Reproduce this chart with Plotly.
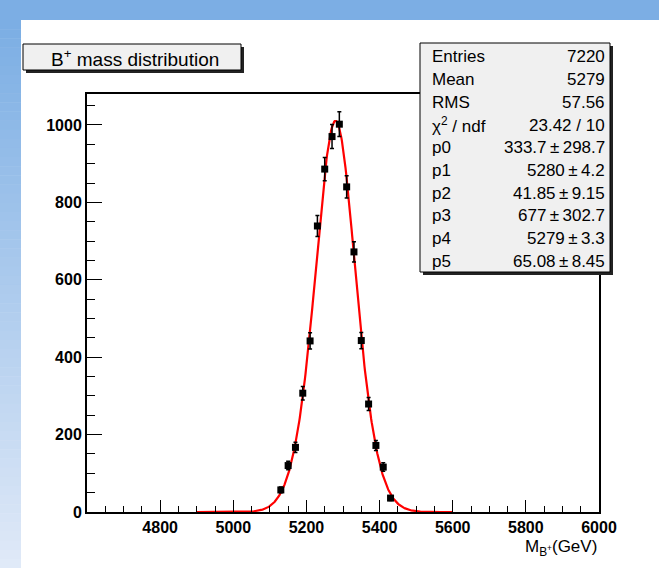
import numpy as np
import plotly.graph_objects as go

# ---- data ----
bin_centers = [5130, 5150, 5170, 5190, 5210, 5230, 5250, 5270, 5290, 5310,
               5330, 5350, 5370, 5390, 5410, 5430]
counts = [57, 120, 167, 307, 442, 739, 886, 970, 1002, 840,
          672, 443, 279, 172, 116, 36]
errors = [7.5, 11, 13, 17.5, 21, 27, 30, 31, 32, 29,
          26, 21, 17, 13, 11, 6]

fit_params = [333.7, 5280, 41.85, 677, 5279, 65.08]   # p0..p5
fit_range = [4900, 5600]

stats_labels = ["Entries", "Mean", "RMS", "χ<sup>2</sup> / ndf", "p0", "p1", "p2", "p3", "p4", "p5"]
stats_values = ["7220", "5279", "57.56", "23.42 / 10", "333.7\u2009±\u2009298.7", "5280\u2009±\u20094.2",
                "41.85\u2009±\u20099.15", "677\u2009±\u2009302.7", "5279\u2009±\u20093.3", "65.08\u2009±\u20098.45"]

x_ticks = [4800, 5000, 5200, 5400, 5600, 5800, 6000]
y_ticks = [0, 200, 400, 600, 800, 1000]

# ---- fit curve from displayed parameters ----
p0, p1, p2, p3, p4, p5 = fit_params
xf = np.linspace(fit_range[0], fit_range[1], 500)
yf = p0 * np.exp(-0.5 * ((xf - p1) / p2) ** 2) + p3 * np.exp(-0.5 * ((xf - p4) / p5) ** 2)

W, H = 659, 568
L, R, T, B = 87, 60, 94, 56
PW, PH = W - L - R, H - T - B

def px(x):
    return (x - L) / PW

def py(y):
    return (H - B - y) / PH

SANS = "Liberation Sans, Arial, sans-serif"

fig = go.Figure()
fig.add_trace(go.Scatter(x=xf, y=yf, mode="lines",
                         line=dict(color="#ff0000", width=2.2), hoverinfo="skip"))
fig.add_trace(go.Scatter(x=bin_centers, y=counts, mode="markers",
                         marker=dict(symbol="square", size=7, color="black"),
                         error_y=dict(type="data", array=errors, color="black",
                                      thickness=1.5, width=2)))

shapes = []
# blue slide background: top band and left gradient band
shapes.append(dict(type="rect", xref="paper", yref="paper", x0=px(0), x1=px(W), y0=py(20), y1=py(0),
                   fillcolor="rgb(124,174,228)", line_width=0, layer="below"))
n = 60
c0 = np.array([124, 174, 228]); c1 = np.array([224, 234, 248])
for i in range(n):
    f = i / (n - 1)
    c = c0 + (c1 - c0) * f
    y0p = 20 + (H - 20) * i / n
    y1p = 20 + (H - 20) * (i + 1) / n
    shapes.append(dict(type="rect", xref="paper", yref="paper", x0=px(0), x1=px(21),
                       y0=py(y1p + 0.5), y1=py(y0p),
                       fillcolor="rgb(%d,%d,%d)" % tuple(c.astype(int)), line_width=0, layer="below"))

def box(x0, y0, x1, y1):
    # shadow then box
    shapes.append(dict(type="rect", xref="paper", yref="paper", x0=px(x0 + 3), x1=px(x1 + 3),
                       y0=py(y1 + 3), y1=py(y0 + 3), fillcolor="#222222", line_width=0, layer="above"))
    shapes.append(dict(type="rect", xref="paper", yref="paper", x0=px(x0), x1=px(x1),
                       y0=py(y1), y1=py(y0), fillcolor="#f0f0f0",
                       line=dict(color="black", width=1), layer="above"))

box(23, 44, 241, 70)
box(420, 43, 610, 272)

annotations = []
annotations.append(dict(xref="paper", yref="paper", x=px(135), y=py(58), text="B<sup>+</sup> mass distribution",
                        showarrow=False, xanchor="center", yanchor="middle",
                        font=dict(family=SANS, size=19, color="black")))
row0, dy = 57, 22.7
for i, (lab, val) in enumerate(zip(stats_labels, stats_values)):
    yy = row0 + i * dy
    annotations.append(dict(xref="paper", yref="paper", x=px(430), y=py(yy), text=lab, showarrow=False,
                            xanchor="left", yanchor="middle",
                            font=dict(family=SANS, size=17, color="black")))
    annotations.append(dict(xref="paper", yref="paper", x=px(607), y=py(yy), text=val, showarrow=False,
                            xanchor="right", yanchor="middle",
                            font=dict(family=SANS, size=17, color="black")))
annotations.append(dict(xref="paper", yref="paper", x=px(599), y=py(548), text="M<sub>B<sup>+</sup></sub>(GeV)",
                        showarrow=False, xanchor="right", yanchor="middle",
                        font=dict(family=SANS, size=17, color="black")))

fig.update_layout(
    width=W, height=H, margin=dict(l=L, r=R, t=T, b=B),
    paper_bgcolor="white", plot_bgcolor="white",
    showlegend=False, shapes=shapes, annotations=annotations,
    font=dict(family=SANS, color="black"),
)
fig.update_xaxes(range=[4600, 6000], tickvals=x_ticks, ticktext=[str(v) for v in x_ticks],
                 ticks="inside", ticklen=12, tickwidth=1, tickcolor="black",
                 minor=dict(dtick=50, ticks="inside", ticklen=6, tickwidth=1, tickcolor="black"),
                 showline=True, linecolor="black", linewidth=2, mirror=True,
                 showgrid=False, zeroline=False,
                 tickfont=dict(family=SANS, size=16, color="black", weight="bold"))
fig.update_yaxes(range=[0, 1080], tickvals=y_ticks, ticktext=[str(v) for v in y_ticks],
                 ticks="inside", ticklen=15, tickwidth=1, tickcolor="black",
                 minor=dict(dtick=50, ticks="inside", ticklen=8, tickwidth=1, tickcolor="black"),
                 showline=True, linecolor="black", linewidth=2, mirror=True,
                 showgrid=False, zeroline=False,
                 tickfont=dict(family=SANS, size=16, color="black", weight="bold"))

fig.write_html("out.html")
